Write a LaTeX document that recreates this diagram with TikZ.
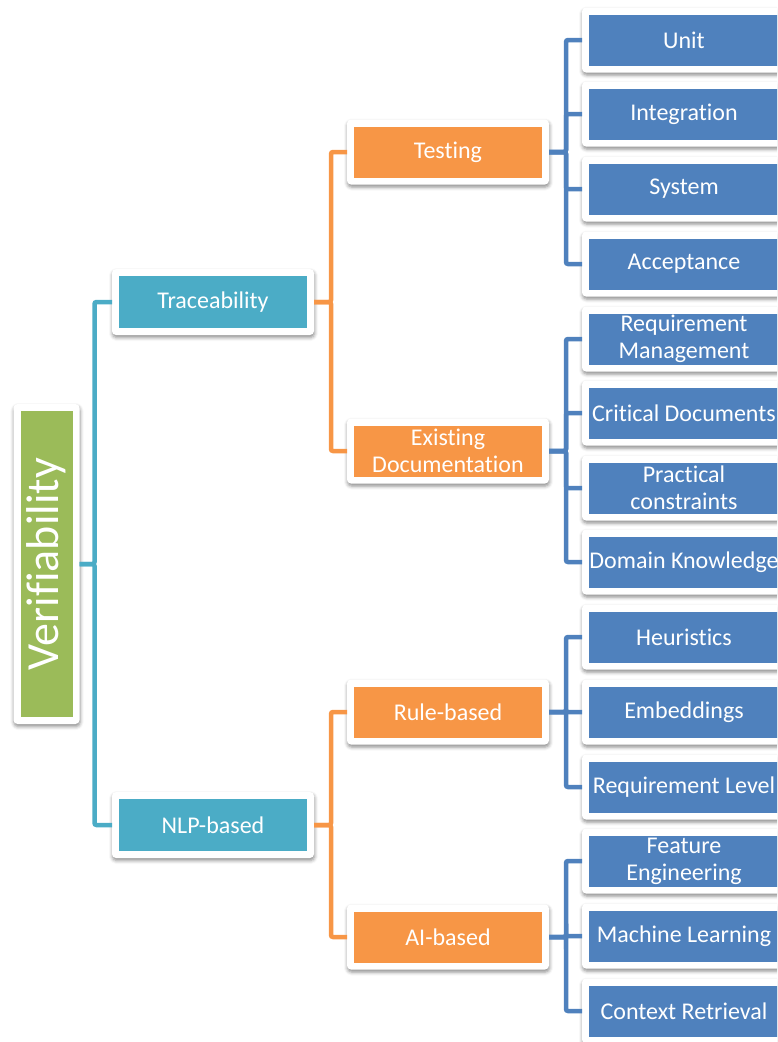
\documentclass[tikz,border=0pt]{standalone}
\usepackage{fontspec}
\setmainfont{Carlito}[Ligatures=CommonOff]
\usetikzlibrary{positioning,shadows.blur}
\definecolor{rootgreen}{HTML}{9BBB59}
\definecolor{catteal}{HTML}{4BACC6}
\definecolor{suborange}{HTML}{F79646}
\definecolor{leafblue}{HTML}{4F81BD}
\tikzset{
    tile/.style = {fill=white, rounded corners=4pt, outer sep=0pt, text=white,
        align=center, inner sep=0pt, font=\fontsize{24}{27}\selectfont,
        blur shadow={shadow xshift=0.5pt, shadow yshift=-2.5pt,
            shadow blur radius=3.5pt, shadow opacity=45},
        path picture={\fill[#1, sharp corners]
            ([xshift=7pt,yshift=-7pt]path picture bounding box.north west) rectangle
            ([xshift=-7pt,yshift=7pt]path picture bounding box.south east);}},
    rootbox/.style = {tile=rootgreen, minimum width=66, minimum height=320},
    catbox/.style  = {tile=catteal, minimum width=202, minimum height=66},
    subbox/.style  = {tile=suborange, minimum width=202, minimum height=65},
    leafbox/.style = {tile=leafblue, minimum width=204, minimum height=65},
    link/.style    = {line width=4.5pt, rounded corners=2pt},
}

\begin{document}
\begin{tikzpicture}[x=1pt, y=-1pt]
    \useasboundingbox (0,0) rectangle (777,1042);
    \clip (0,0) rectangle (777,1042);

    \node[rootbox] (root) at (46.5,564)
        {\rotatebox{90}{\fontsize{46}{50}\selectfont Verifiability}};

    \node[catbox] (trace) at (213,302) {Traceability};
    \node[catbox] (nlp)   at (213,825) {NLP-based};

    \node[subbox] (testing) at (448,152) {Testing};
    \node[subbox] (docs)    at (448,451) {Existing\\Documentation};
    \node[subbox] (rules)   at (448,712) {Rule-based};
    \node[subbox] (ai)      at (448,937) {AI-based};

    \foreach \nm/\yy/\txt in {unit/40/Unit, integ/114/Integration,
            system/189/System, accept/264/Acceptance,
            reqman/339/{Requirement\\Management}, critical/413/Critical Documents,
            practical/488/{Practical\\constraints}, domain/562/Domain Knowledge,
            heur/637/Heuristics, embed/712/Embeddings,
            reqlevel/787/Requirement Level, feature/861/{Feature\\Engineering},
            ml/936/Machine Learning, context/1011/Context Retrieval}
        \node[leafbox] (\nm) at (684,\yy) {\txt};

    % connectors
    \foreach \nm in {trace,nlp}
        \draw[link, catteal] (root.east) -- ++(15,0) |- (\nm.west);
    \foreach \nm in {testing,docs}
        \draw[link, suborange] (trace.east) -- ++(17,0) |- (\nm.west);
    \foreach \nm in {rules,ai}
        \draw[link, suborange] (nlp.east) -- ++(17,0) |- (\nm.west);
    \foreach \nm in {unit,integ,system,accept}
        \draw[link, leafblue] (testing.east) -- ++(17,0) |- (\nm.west);
    \foreach \nm in {reqman,critical,practical,domain}
        \draw[link, leafblue] (docs.east) -- ++(17,0) |- (\nm.west);
    \foreach \nm in {heur,embed,reqlevel}
        \draw[link, leafblue] (rules.east) -- ++(17,0) |- (\nm.west);
    \foreach \nm in {feature,ml,context}
        \draw[link, leafblue] (ai.east) -- ++(17,0) |- (\nm.west);
\end{tikzpicture}
\end{document}
